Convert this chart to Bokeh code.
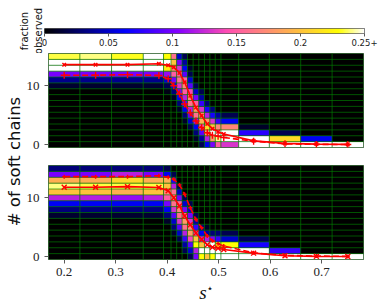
import numpy as np
from bokeh.plotting import figure
from bokeh.layouts import column, row
from bokeh.models import LinearColorMapper, FixedTicker, ColumnDataSource
from bokeh.embed import file_html
from bokeh.resources import INLINE
from bokeh.core.properties import value

# ---------------- data ----------------
s_star = [0.200, 0.261, 0.323, 0.384, 0.402, 0.413, 0.424, 0.434, 0.445, 0.456,
          0.467, 0.478, 0.488, 0.499, 0.510, 0.568, 0.629, 0.690, 0.751]
n_soft = list(range(16))

mean_top = [13.6, 13.6, 13.6, 13.75, 13.5, 13.15, 12.2, 10.6, 8.3, 6.3,
            4.9, 3.5, 2.7, 2.2, 1.8, 0.63, 0.2, 0.08, 0.03]
mean_bottom = [11.8, 11.8, 11.9, 11.75, 11.2, 10.0, 8.6, 6.9, 5.4, 4.0,
               2.9, 2.0, 1.6, 1.4, 1.2, 0.58, 0.13, 0.03, 0.02]

# fraction observed, one list per s* value, rows = number of soft chains 0..15
frac_top = [
    [0, 0, 0, 0, 0, 0, 0, 0, 0, 0, .012, .035, .10, .28, .30, .235],
    [0, 0, 0, 0, 0, 0, 0, 0, 0, 0, .012, .035, .10, .28, .30, .240],
    [0, 0, 0, 0, 0, 0, 0, 0, 0, 0, .012, .035, .10, .28, .30, .232],
    [0, 0, 0, 0, 0, 0, 0, 0, 0, 0, .012, .035, .10, .26, .30, .270],
    [0, 0, 0, 0, 0, 0, 0, 0, 0, .005, .02, .05, .11, .22, .27, .23],
    [0, 0, 0, 0, 0, 0, 0, 0, .01, .03, .06, .10, .15, .17, .20, .16],
    [0, 0, 0, 0, 0, 0, .01, .03, .06, .10, .13, .16, .15, .13, .10, .05],
    [0, 0, 0, 0, .01, .03, .06, .09, .12, .15, .17, .15, .09, .06, .04, .02],
    [0, 0, 0, .02, .05, .09, .12, .16, .17, .14, .09, .05, .02, .01, 0, 0],
    [0, .01, .03, .06, .11, .16, .18, .15, .10, .05, .02, 0, 0, 0, 0, 0],
    [.02, .04, .09, .14, .19, .18, .13, .08, .04, .02, 0, 0, 0, 0, 0, 0],
    [.06, .12, .18, .21, .18, .12, .07, .03, 0, 0, 0, 0, 0, 0, 0, 0],
    [.10, .18, .26, .20, .13, .07, .03, 0, 0, 0, 0, 0, 0, 0, 0, 0],
    [.15, .24, .27, .17, .08, .04, 0, 0, 0, 0, 0, 0, 0, 0, 0, 0],
    [.13, .30, .27, .17, .06, .02, 0, 0, 0, 0, 0, 0, 0, 0, 0, 0],
    [.50, .40, .075, .01, 0, 0, 0, 0, 0, 0, 0, 0, 0, 0, 0, 0],
    [.77, .21, .02, 0, 0, 0, 0, 0, 0, 0, 0, 0, 0, 0, 0, 0],
    [.94, .06, 0, 0, 0, 0, 0, 0, 0, 0, 0, 0, 0, 0, 0, 0],
    [1.0, 0, 0, 0, 0, 0, 0, 0, 0, 0, 0, 0, 0, 0, 0, 0],
]
frac_bottom = [
    [0, 0, 0, 0, 0, 0, 0, .012, .03, .06, .12, .20, .240, .19, .10, .03],
    [0, 0, 0, 0, 0, 0, 0, .012, .03, .06, .12, .20, .235, .19, .10, .03],
    [0, 0, 0, 0, 0, 0, 0, .012, .03, .06, .11, .19, .235, .21, .12, .03],
    [0, 0, 0, 0, 0, 0, 0, .012, .03, .06, .12, .20, .235, .19, .10, .03],
    [0, 0, 0, 0, 0, 0, .01, .03, .06, .10, .15, .17, .20, .19, .06, .02],
    [0, 0, 0, 0, .01, .03, .05, .09, .13, .16, .17, .16, .12, .07, .02, 0],
    [0, 0, 0, .02, .05, .09, .13, .16, .17, .15, .10, .05, .02, 0, 0, 0],
    [0, .02, .04, .08, .12, .16, .18, .16, .10, .05, .02, 0, 0, 0, 0, 0],
    [.02, .05, .09, .14, .18, .17, .13, .10, .05, .02, 0, 0, 0, 0, 0, 0],
    [.10, .12, .23, .20, .14, .08, .04, .02, 0, 0, 0, 0, 0, 0, 0, 0],
    [.23, .27, .20, .12, .06, .03, 0, 0, 0, 0, 0, 0, 0, 0, 0, 0],
    [.20, .30, .27, .12, .04, .01, 0, 0, 0, 0, 0, 0, 0, 0, 0, 0],
    [.23, .32, .27, .10, .03, 0, 0, 0, 0, 0, 0, 0, 0, 0, 0, 0],
    [.28, .35, .22, .08, .03, 0, 0, 0, 0, 0, 0, 0, 0, 0, 0, 0],
    [.35, .35, .23, .05, .02, 0, 0, 0, 0, 0, 0, 0, 0, 0, 0, 0],
    [.56, .35, .07, .02, 0, 0, 0, 0, 0, 0, 0, 0, 0, 0, 0, 0],
    [.92, .08, 0, 0, 0, 0, 0, 0, 0, 0, 0, 0, 0, 0, 0, 0],
    [1.0, 0, 0, 0, 0, 0, 0, 0, 0, 0, 0, 0, 0, 0, 0, 0],
    [1.0, 0, 0, 0, 0, 0, 0, 0, 0, 0, 0, 0, 0, 0, 0, 0],
]

cbar_ticks = [0, 0.05, 0.1, 0.15, 0.2, 0.25]
cbar_labels = ["0", "0.05", "0.1", "0.15", "0.2", "0.25+"]
x_ticks = [0.2, 0.3, 0.4, 0.5, 0.6, 0.7]
x_labels = ["0.2", "0.3", "0.4", "0.5", "0.6", "0.7"]
y_ticks = [0, 10]
cbar_low, cbar_high = 0.0, 0.25

# ---------------- styling / layout ----------------
SERIF = "Liberation Serif"
SANS = "DejaVu Sans"
GRID = "#008000"
EDGE = "#5a5a5a"
TXT = "#111111"


def gnuplot2(n=256):
    out = []
    for i in range(n):
        x = i / (n - 1)
        r = min(max(x / 0.32 - 0.78125, 0.0), 1.0)
        g = min(max(2 * x - 0.84, 0.0), 1.0)
        if x < 0.25:
            b = 4 * x
        elif x < 0.42:
            b = 1.0
        elif x < 0.92:
            b = -2 * x + 1.84
        else:
            b = x / 0.08 - 11.5
        b = min(max(b, 0.0), 1.0)
        out.append("#%02x%02x%02x" % (round(r * 255), round(g * 255), round(b * 255)))
    return out


palette = gnuplot2()
mapper = LinearColorMapper(palette=palette, low=cbar_low, high=cbar_high)

s = np.array(s_star)
mid = (s[1:] + s[:-1]) / 2
x_edges = np.concatenate([[2 * s[0] - mid[0]], mid, [2 * s[-1] - mid[-1]]])
n_arr = np.array(n_soft, dtype=float)
y_edges = np.concatenate([n_arr - 0.5, [n_arr[-1] + 0.5]])

PW = 359          # width of the panel column
PL, PR = 23, 19   # panel borders inside that column -> frame width 317


def helper(w, h, bl=0, br=0):
    p = figure(width=w, height=h, x_range=(0, w - bl - br), y_range=(0, h),
               output_backend="svg", toolbar_location=None,
               x_axis_location=None, y_axis_location=None,
               min_border=0, min_border_left=bl, min_border_right=br,
               min_border_top=0, min_border_bottom=0)
    p.outline_line_color = None
    p.xgrid.visible = False
    p.ygrid.visible = False
    return p


def style_axes(p):
    p.outline_line_color = EDGE
    p.outline_line_width = 1
    p.xgrid.visible = False
    p.ygrid.visible = False
    for ax in (p.xaxis, p.yaxis):
        ax.axis_line_color = None
        ax.major_tick_line_color = EDGE
        ax.minor_tick_line_color = None
        ax.major_tick_in = 0
        ax.major_tick_out = 4
        ax.major_label_text_font = SERIF
        ax.major_label_text_font_size = "13px"
        ax.major_label_text_color = "#222222"


def panel(frac, solid, dashed, solid_marker, solid_size, dashed_marker, dashed_size,
          height, b_top, b_bottom, show_x):
    p = figure(width=PW, height=height, x_range=(x_edges[0], x_edges[-1]),
               y_range=(y_edges[0], y_edges[-1]), output_backend="svg",
               toolbar_location=None, min_border_left=PL,
               min_border_right=PR, min_border_top=b_top,
               min_border_bottom=b_bottom, background_fill_color="black",
               border_fill_color="white")
    left, right, bottom, top, val = [], [], [], [], []
    for i, col in enumerate(frac):
        for k, v in enumerate(col):
            left.append(x_edges[i]); right.append(x_edges[i + 1])
            bottom.append(y_edges[k]); top.append(y_edges[k + 1]); val.append(v)
    src = ColumnDataSource(dict(left=left, right=right, bottom=bottom, top=top, val=val))
    p.quad(left="left", right="right", bottom="bottom", top="top", source=src,
           fill_color={"field": "val", "transform": mapper}, line_color=None)
    # cell grid
    p.segment(x0=list(x_edges), x1=list(x_edges), y0=y_edges[0], y1=y_edges[-1],
              line_color=GRID, line_alpha=0.65, line_width=1)
    p.segment(x0=x_edges[0], x1=x_edges[-1], y0=list(y_edges), y1=list(y_edges),
              line_color=GRID, line_alpha=0.65, line_width=1)
    # mean curves
    p.line(s_star, dashed, line_color="red", line_width=1.6, line_dash="6 3")
    p.scatter(s_star, dashed, marker=dashed_marker, size=dashed_size,
              line_color="red", fill_color="red", line_width=1.4)
    p.line(s_star, solid, line_color="red", line_width=1.6)
    p.scatter(s_star, solid, marker=solid_marker, size=solid_size,
              line_color="red", fill_color="red", line_width=1.4)
    style_axes(p)
    p.yaxis.ticker = FixedTicker(ticks=y_ticks)
    p.xaxis.ticker = FixedTicker(ticks=x_ticks)
    p.xaxis.major_label_overrides = dict(zip(x_ticks, x_labels))
    p.xaxis.visible = show_x
    return p


# ---------------- colour bar ----------------
TOP_H = 53
pc = figure(width=382, height=TOP_H, x_range=(cbar_low, cbar_high), y_range=(0, 1),
            output_backend="svg", toolbar_location=None, min_border_left=44,
            min_border_right=18, min_border_top=28, min_border_bottom=20)
grad = np.linspace(cbar_low, cbar_high, 256)[None, :]
pc.image(image=[grad], x=cbar_low, y=0, dw=cbar_high - cbar_low, dh=1, color_mapper=mapper)
pc.outline_line_color = EDGE
pc.xgrid.visible = False
pc.ygrid.visible = False
pc.xaxis.ticker = FixedTicker(ticks=cbar_ticks)
pc.xaxis.major_label_overrides = dict(zip(cbar_ticks, cbar_labels))
pc.xaxis.axis_line_color = None
pc.xaxis.major_tick_line_color = EDGE
pc.xaxis.minor_tick_line_color = None
pc.xaxis.major_tick_in = 0
pc.xaxis.major_tick_out = 3
pc.xaxis.major_label_standoff = 2
pc.xaxis.major_label_text_font = SANS
pc.xaxis.major_label_text_font_size = "8.5px"
pc.xaxis.major_label_text_color = "#222222"
# colour-bar title on the left
pc.yaxis.ticker = FixedTicker(ticks=[])
pc.yaxis.axis_line_color = None
pc.yaxis.major_tick_line_color = None
pc.yaxis.minor_tick_line_color = None
pc.yaxis.major_tick_out = 0
pc.yaxis.major_label_standoff = 0
pc.yaxis.axis_label = "fraction\nobserved"
pc.yaxis.axis_label_text_font = SANS
pc.yaxis.axis_label_text_font_style = "normal"
pc.yaxis.axis_label_text_font_size = "10px"
pc.yaxis.axis_label_text_color = TXT
pc.yaxis.axis_label_standoff = 1

# ---------------- panels ----------------
H1 = 103
H2 = 127
HX = 306 - TOP_H - H1 - H2
p1 = panel(frac_top, mean_top, mean_bottom, "x", 5, "cross", 7, H1, 0, 9, False)
p2 = panel(frac_bottom, mean_bottom, mean_top, "x", 7, "cross", 4, H2, 9, H2 - 9 - 94, True)
p2.xaxis.major_label_standoff = 4

# x label strip (frame aligned with the panels: local x = page x - 46)
hx = helper(PW, HX, PL, PR)
hx.text(x=[201.5 - 46], y=[HX - 9], text=["s"], text_align="center",
        text_baseline="middle", text_font=value(SERIF), text_font_style="italic",
        text_font_size="19px", text_color=TXT)
hx.text(x=[208.5 - 46], y=[HX - 4.5], text=["\u22c6"], text_align="center",
        text_baseline="middle", text_font=value(SANS), text_font_size="11px",
        text_color=TXT)

HY = 306 - TOP_H
hy = helper(23, HY)
hy.text(x=[13.5], y=[HY - (161 - TOP_H)], text=["# of soft chains"], angle=np.pi / 2,
        text_align="center", text_baseline="middle", text_font=value(SANS),
        text_font_size="16.5px", text_color=TXT)

layout = column(pc,
                row(hy, column(p1, p2, hx, spacing=0), spacing=0),
                spacing=0)
open("out.html", "w").write(file_html(layout, INLINE))
